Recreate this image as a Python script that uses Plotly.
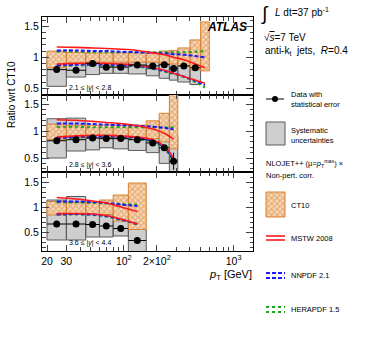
import numpy as np
import plotly.graph_objects as go

W, H = 374, 363

# ---------------- data ----------------
edges1 = [20, 30, 45, 60, 80, 110, 160, 210, 260, 310, 400, 500, 600]
edges2 = [20, 30, 45, 60, 80, 110, 160, 210, 260, 310]
edges3 = [20, 30, 45, 60, 80, 110, 160]

# panel 1: 2.1 <= |y| < 2.8
data1 = [0.80, 0.79, 0.90, 0.84, 0.84, 0.875, 0.86, 0.88, 0.82, 0.86, 0.83]
stat1 = [0.01, 0.01, 0.01, 0.01, 0.01, 0.01, 0.01, 0.015, 0.02, 0.02, 0.03]
sys_lo1 = [0.53, 0.68, 0.72, 0.74, 0.74, 0.73, 0.70, 0.66, 0.63, 0.60, 0.56]
sys_hi1 = [1.02, 1.00, 1.02, 1.00, 1.00, 1.02, 1.02, 1.04, 1.02, 1.06, 1.08]
ct_lo1 = [0.83, 0.91, 0.92, 0.92, 0.92, 0.92, 0.92, 0.90, 0.89, 0.86, 0.80, 0.78]
ct_hi1 = [1.10, 1.08, 1.07, 1.07, 1.07, 1.07, 1.08, 1.10, 1.11, 1.15, 1.28, 1.57]
mstw_hi1 = [1.165, 1.16, 1.15, 1.14, 1.13, 1.11, 1.07, 1.04, 1.00, 0.96, 0.89, 0.83]
mstw_lo1 = [0.89, 0.90, 0.905, 0.90, 0.89, 0.87, 0.83, 0.79, 0.74, 0.69, 0.63, 0.58]
nn_hi1 = [1.11, 1.11, 1.10, 1.10, 1.09, 1.08, 1.07, 1.06, 1.05, 1.04, 1.02, 1.00]
nn_lo1 = [0.87, 0.88, 0.885, 0.88, 0.87, 0.86, 0.82, 0.78, 0.74, 0.69, 0.62, 0.55]
hera_hi1 = [1.09, 1.09, 1.08, 1.08, 1.08, 1.08, 1.08, 1.08, 1.08, 1.08, 1.09, 1.10]
hera_lo1 = [0.86, 0.865, 0.87, 0.865, 0.86, 0.85, 0.81, 0.77, 0.73, 0.68, 0.60, 0.51]

# panel 2: 2.8 <= |y| < 3.6
data2 = [0.82, 0.84, 0.87, 0.86, 0.86, 0.84, 0.78, 0.69, 0.44]
stat2 = [0.01, 0.01, 0.01, 0.01, 0.01, 0.01, 0.02, 0.04, 0.16]
sys_lo2 = [0.50, 0.63, 0.65, 0.69, 0.67, 0.64, 0.60, 0.40, 0.10]
sys_hi2 = [1.23, 1.24, 1.08, 1.08, 1.08, 1.06, 1.05, 1.00, 0.90]
ct_lo2 = [0.84, 0.88, 0.88, 0.88, 0.88, 0.88, 0.86, 0.80, 0.67]
ct_hi2 = [1.13, 1.11, 1.11, 1.11, 1.11, 1.11, 1.19, 1.33, 1.90]
mstw_hi2 = [1.21, 1.20, 1.18, 1.16, 1.14, 1.10, 1.04, 0.96, 0.85]
mstw_lo2 = [0.89, 0.91, 0.92, 0.92, 0.91, 0.89, 0.84, 0.72, 0.50]
nn_hi2 = [1.14, 1.14, 1.13, 1.12, 1.11, 1.10, 1.08, 1.06, 1.03]
nn_lo2 = [0.87, 0.89, 0.90, 0.90, 0.89, 0.87, 0.81, 0.70, 0.46]
hera_hi2 = [1.08, 1.08, 1.07, 1.07, 1.07, 1.07, 1.07, 1.07, 1.07]
hera_lo2 = [0.86, 0.875, 0.885, 0.88, 0.87, 0.85, 0.80, 0.68, 0.43]

# panel 3: 3.6 <= |y| < 4.4
data3 = [0.66, 0.66, 0.65, 0.62, 0.57, 0.33]
stat3 = [0.01, 0.01, 0.01, 0.015, 0.02, 0.05]
sys_lo3 = [0.34, 0.34, 0.40, 0.40, 0.42, 0.05]
sys_hi3 = [1.14, 1.21, 1.05, 1.05, 1.05, 0.55]
ct_lo3 = [0.84, 0.85, 0.85, 0.85, 0.72, 0.55]
ct_hi3 = [1.11, 1.09, 1.09, 1.14, 1.24, 1.48]
mstw_hi3 = [1.19, 1.16, 1.12, 1.08, 1.00, 0.91]
mstw_lo3 = [0.87, 0.87, 0.86, 0.83, 0.76, 0.66]
nn_hi3 = [1.11, 1.11, 1.10, 1.08, 1.05, 1.02]
nn_lo3 = [0.85, 0.86, 0.85, 0.82, 0.75, 0.66]
hera_hi3 = [1.09, 1.09, 1.08, 1.07, 1.06, 1.05]
hera_lo3 = [0.85, 0.85, 0.84, 0.81, 0.74, 0.65]

region_labels = ["2.1 \u2264 |<i>y</i>| < 2.8", "2.8 \u2264 |<i>y</i>| < 3.6", "3.6 \u2264 |<i>y</i>| < 4.4"]
x_major_vals = [20, 30, 100, 200, 1000]
x_major_text = ["20", "30", "10<sup>2</sup>", "2\u00d710<sup>2</sup>", "10<sup>3</sup>"]
x_minor_vals = [40, 50, 60, 70, 80, 90, 300, 400, 500, 600, 700, 800, 900]

# ---------------- style ----------------
FONT = "Liberation Sans, Arial, Helvetica, sans-serif"
GRAY_FILL = "#cecece"
GRAY_LINE = "#5a5a5a"
ORANGE = "#d98030"
RED = "#ff1a1a"
BLUE = "#1a1aff"
GREEN = "#1aa51a"
HATCH = dict(shape="x", fgcolor=ORANGE, bgcolor="#f7dcc0", size=4, solidity=0.6)


def px(x):
    return x / W


def py(y):
    return 1 - y / H


def rects(edges, lo, hi):
    xs, ys = [], []
    for i in range(len(lo)):
        a, b = edges[i], edges[i + 1]
        xs += [a, b, b, a, a, None]
        ys += [lo[i], lo[i], hi[i], hi[i], lo[i], None]
    return xs, ys


def centers(edges, n):
    return [float(np.sqrt(edges[i] * edges[i + 1])) for i in range(n)]


fig = go.Figure()

panels = [
    (edges1, data1, stat1, sys_lo1, sys_hi1, ct_lo1, ct_hi1, mstw_hi1, mstw_lo1, nn_hi1, nn_lo1, hera_hi1, hera_lo1),
    (edges2, data2, stat2, sys_lo2, sys_hi2, ct_lo2, ct_hi2, mstw_hi2, mstw_lo2, nn_hi2, nn_lo2, hera_hi2, hera_lo2),
    (edges3, data3, stat3, sys_lo3, sys_hi3, ct_lo3, ct_hi3, mstw_hi3, mstw_lo3, nn_hi3, nn_lo3, hera_hi3, hera_lo3),
]

for k, p in enumerate(panels):
    (edges, data, stat, slo, shi, clo, chi, mh, ml, nh, nl, hh, hl) = p
    xa = "x" if k == 0 else f"x{k+1}"
    ya = "y" if k == 0 else f"y{k+1}"
    xs, ys = rects(edges, slo, shi)
    fig.add_trace(go.Scatter(x=xs, y=ys, fill="toself", fillcolor=GRAY_FILL,
                             line=dict(color=GRAY_LINE, width=1), mode="lines",
                             xaxis=xa, yaxis=ya, showlegend=False, hoverinfo="skip"))
    xs, ys = rects(edges, clo, chi)
    fig.add_trace(go.Scatter(x=xs, y=ys, fill="toself", fillcolor="#f7dcc0",
                             fillpattern=HATCH,
                             line=dict(color=ORANGE, width=1), mode="lines",
                             xaxis=xa, yaxis=ya, showlegend=False, hoverinfo="skip"))
    cx = centers(edges, len(mh))
    for vals, col, dash, wd in [(hh, GREEN, "dot", 2), (hl, GREEN, "dot", 2),
                                (nh, BLUE, "4px,2px", 2), (nl, BLUE, "4px,2px", 2),
                                (mh, RED, "solid", 1.6), (ml, RED, "solid", 1.6)]:
        fig.add_trace(go.Scatter(x=cx, y=vals, mode="lines",
                                 line=dict(color=col, dash=dash, width=wd, shape="spline"),
                                 xaxis=xa, yaxis=ya, showlegend=False, hoverinfo="skip"))
    dc = centers(edges, len(data))
    ex_p = [edges[i + 1] - dc[i] for i in range(len(data))]
    ex_m = [dc[i] - edges[i] for i in range(len(data))]
    fig.add_trace(go.Scatter(x=dc, y=data, mode="markers",
                             marker=dict(color="black", size=7),
                             error_y=dict(type="data", array=stat, color="black", thickness=1, width=0),
                             error_x=dict(type="data", array=ex_p, arrayminus=ex_m, symmetric=False,
                                          color="black", thickness=1, width=0),
                             xaxis=xa, yaxis=ya, showlegend=False, hoverinfo="skip"))

# ---------------- legend (overlay axis in pixel units) ----------------
LX = "x4"
LY = "y4"


def leg(xs, ys, **kw):
    fig.add_trace(go.Scatter(x=xs, y=ys, xaxis=LX, yaxis=LY, showlegend=False,
                             hoverinfo="skip", **kw))


leg([266, 284], [99, 99], mode="lines", line=dict(color="black", width=1))
leg([275], [99], mode="markers", marker=dict(color="black", size=6))
leg([266, 285, 285, 266, 266], [122, 122, 145, 145, 122], mode="lines", fill="toself",
    fillcolor=GRAY_FILL, line=dict(color=GRAY_LINE, width=1))
leg([266, 285, 285, 266, 266], [192, 192, 217, 217, 192], mode="lines", fill="toself",
    fillcolor="#f7dcc0", fillpattern=HATCH, line=dict(color=ORANGE, width=1))
for yy in [236, 240]:
    leg([266, 285], [yy, yy], mode="lines", line=dict(color=RED, width=1.6))
for yy in [273, 278]:
    leg([266, 285], [yy, yy], mode="lines", line=dict(color=BLUE, width=2, dash="4px,2px"))
for yy in [307, 312]:
    leg([266, 285], [yy, yy], mode="lines", line=dict(color=GREEN, width=2, dash="dot"))

# ---------------- layout ----------------
XD = [px(42), px(253)]
doms = [[py(95), py(17)], [py(172), py(95)], [py(251), py(172)]]
yranges = [[0.39, 1.65], [0.24, 1.67], [0.12, 1.70]]

layout = dict(width=W, height=H, margin=dict(l=0, r=0, t=0, b=0),
              paper_bgcolor="white", plot_bgcolor="rgba(0,0,0,0)",
              font=dict(family=FONT, color="black"))

for k in range(3):
    xs = "xaxis" if k == 0 else f"xaxis{k+1}"
    ys = "yaxis" if k == 0 else f"yaxis{k+1}"
    layout[xs] = dict(domain=XD, type="log", range=[np.log10(18), np.log10(1500)],
                      anchor="y" if k == 0 else f"y{k+1}",
                      tickmode="array", tickvals=x_major_vals, ticktext=x_major_text,
                      showticklabels=(k == 2), ticks="inside", ticklen=6,
                      minor=dict(tickmode="array", tickvals=x_minor_vals, ticks="inside",
                                 ticklen=4, showgrid=False),
                      tickfont=dict(size=10.5, family=FONT),
                      showline=True, linecolor="black", linewidth=1, mirror="ticks",
                      showgrid=False, zeroline=False)
    layout[ys] = dict(domain=doms[k], range=yranges[k],
                      anchor="x" if k == 0 else f"x{k+1}",
                      tick0=0, dtick=0.5, ticks="inside", ticklen=7,
                      minor=dict(dtick=0.1, tick0=0, ticks="inside", ticklen=3.5, showgrid=False),
                      tickfont=dict(size=10.5, family=FONT),
                      showline=True, linecolor="black", linewidth=1, mirror="ticks",
                      showgrid=False, zeroline=False)

layout["xaxis4"] = dict(domain=[0, 1], range=[0, W], visible=False, anchor="y4", fixedrange=True)
layout["yaxis4"] = dict(domain=[0, 1], range=[H, 0], visible=False, anchor="x4", fixedrange=True)

fig.update_layout(**layout)

ann = []


def text(x, y, s, size, xanchor="left", yanchor="middle", **kw):
    ann.append(dict(x=px(x), y=py(y), xref="paper", yref="paper", text=s, showarrow=False,
                    xanchor=xanchor, yanchor=yanchor, font=dict(size=size, family=FONT, color="black"), **kw))


for lab, yy in zip(region_labels, [88, 165, 243]):
    text(67, yy, lab, 7)

text(249, 27, "<b><i>ATLAS</i></b>", 12, xanchor="right")

ann.append(dict(x=px(12), y=py(95), xref="paper", yref="paper", text="Ratio wrt CT10",
                showarrow=False, textangle=-90, font=dict(size=10, family=FONT, color="black"),
                xanchor="center", yanchor="middle"))
text(254, 275, "<i>p</i><sub>T</sub> [GeV]", 11, xanchor="right")

text(259, 14, "\u222b", 19)
text(273, 12, "<i>L</i> dt=37 pb<sup>-1</sup>", 10)
text(262, 38, "\u221a<span style='text-decoration:overline'><i>s</i></span>=7 TeV", 10)
text(263, 51, "anti-k<sub>t</sub>  jets,  <i>R</i>=0.4", 10)
text(289, 95, "Data with", 7.5)
text(289, 104, "statistical error", 7.5)
text(289, 130, "Systematic", 7.5)
text(289, 140, "uncertainties", 7.5)
text(264, 163, "NLOJET++ (\u03bc=<i>p</i><sub>T</sub><sup>max</sup>) \u00d7", 7.5)
text(264, 175, "Non-pert. corr.", 7.5)
text(289, 205, "CT10", 7.5)
text(289, 238, "MSTW 2008", 7.5)
text(289, 275, "NNPDF 2.1", 7.5)
text(289, 309, "HERAPDF 1.5", 7.5)

fig.update_layout(annotations=ann)

fig.write_html("out.html", config={"displayModeBar": False},
               post_script="document.body.style.margin='0px';")
